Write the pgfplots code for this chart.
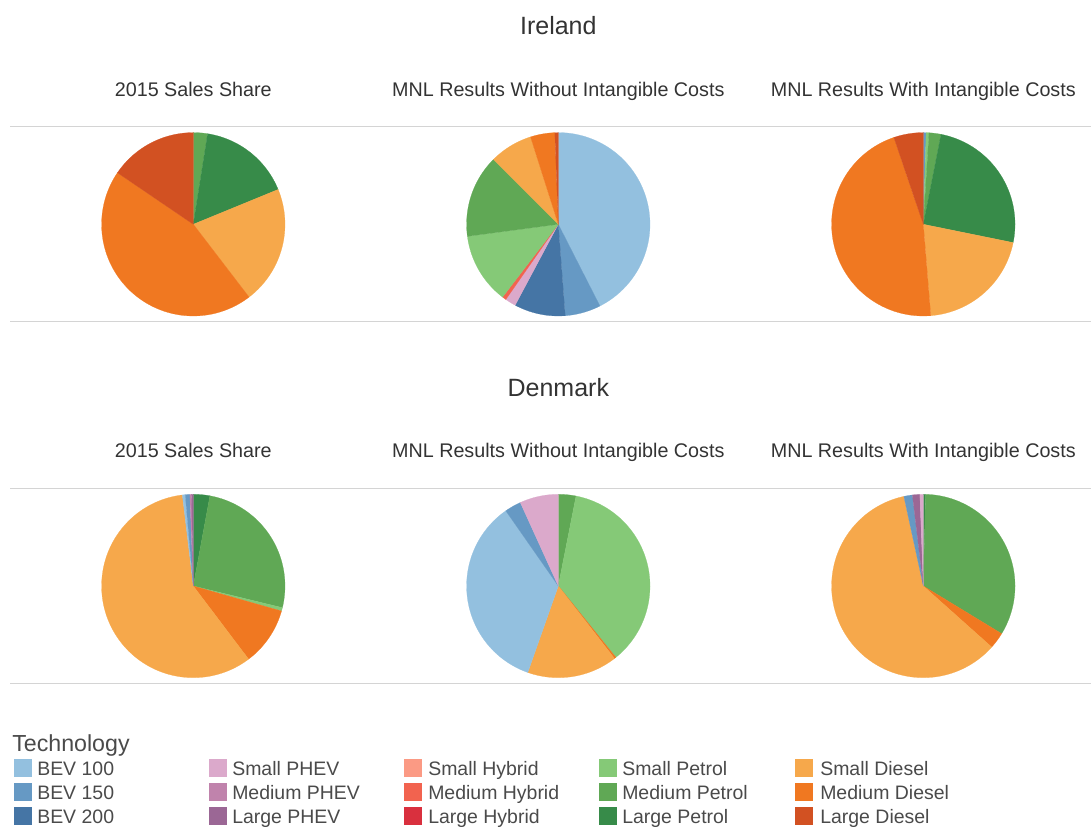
\documentclass[border=0pt]{standalone}
\usepackage{pgfplots}
\pgfplotsset{compat=1.18}
\usepackage{pgfplotstable}
\usepgfplotslibrary{polar}
\usepackage{fontspec}
\setmainfont{Liberation Sans}

\definecolor{BEV100}{HTML}{93C0DF}
\definecolor{BEV150}{HTML}{6699C4}
\definecolor{BEV200}{HTML}{4575A5}
\definecolor{SmallPHEV}{HTML}{DBA9CB}
\definecolor{MediumPHEV}{HTML}{C083AC}
\definecolor{LargePHEV}{HTML}{9B6795}
\definecolor{SmallHybrid}{HTML}{FB9A84}
\definecolor{MediumHybrid}{HTML}{F2634F}
\definecolor{LargeHybrid}{HTML}{D9303E}
\definecolor{SmallPetrol}{HTML}{85C977}
\definecolor{MediumPetrol}{HTML}{60A855}
\definecolor{LargePetrol}{HTML}{378B49}
\definecolor{SmallDiesel}{HTML}{F6A84B}
\definecolor{MediumDiesel}{HTML}{F07821}
\definecolor{LargeDiesel}{HTML}{D25122}
\definecolor{txt}{HTML}{333333}
\definecolor{legtxt}{HTML}{4A4A4A}
\definecolor{rule}{HTML}{D4D4D4}

% Ireland
\pgfplotstableread{
tech share
MediumPetrol 2.5
LargePetrol 16.3
SmallDiesel 20.8
MediumDiesel 44.9
LargeDiesel 15.5
}\IreA
\pgfplotstableread{
tech share
BEV100 42.5
BEV150 6.3
BEV200 9.0
SmallPHEV 1.9
MediumHybrid 0.7
SmallPetrol 12.5
MediumPetrol 14.6
SmallDiesel 7.6
MediumDiesel 4.3
LargeDiesel 0.6
}\IreB
\pgfplotstableread{
tech share
BEV150 0.5
SmallPetrol 0.5
MediumPetrol 2.1
LargePetrol 25.1
SmallDiesel 20.5
MediumDiesel 46.1
LargeDiesel 5.2
}\IreC
% Denmark
\pgfplotstableread{
tech share
LargePetrol 2.9
MediumPetrol 25.9
SmallPetrol 0.6
MediumDiesel 10.3
SmallDiesel 58.4
BEV100 0.5
BEV150 0.8
MediumPHEV 0.3
LargePHEV 0.3
}\DenA
\pgfplotstableread{
tech share
MediumPetrol 3.1
SmallPetrol 36.1
MediumDiesel 0.3
SmallDiesel 15.9
BEV100 34.9
BEV150 2.9
SmallPHEV 6.8
}\DenB
\pgfplotstableread{
tech share
LargePetrol 0.4
MediumPetrol 33.3
MediumDiesel 2.9
SmallDiesel 60.0
BEV150 1.5
LargePHEV 1.3
SmallPHEV 0.6
}\DenC

\newcommand{\drawpie}[1]{%
  \pgfplotstablegetrowsof{#1}%
  \pgfmathtruncatemacro\pielast{\pgfplotsretval-1}%
  \gdef\piecum{0}%
  \foreach \i in {0,...,\pielast}{%
    \pgfplotstablegetelem{\i}{tech}\of{#1}\let\piecol\pgfplotsretval
    \pgfplotstablegetelem{\i}{share}\of{#1}\let\pieval\pgfplotsretval
    \pgfmathsetmacro\pa{90-(\piecum+\pieval)*3.6}%
    \pgfmathsetmacro\pb{90-\piecum*3.6}%
    \pgfmathtruncatemacro\pn{max(2,(\pb-\pa)/1.5+2)}%
    \edef\doslice{\noexpand\addplot[fill=\piecol,draw=\piecol,line width=0.15pt,domain=\pa:\pb,samples=\pn]{1} -- (axis cs:0,0) -- cycle;}%
    \doslice
    \pgfmathsetmacro\newcum{\piecum+\pieval}%
    \xdef\piecum{\newcum}%
  }%
}

\pgfplotsset{pie/.style={anchor=center, width=137.55pt, height=137.55pt,
  scale only axis, hide axis, ymin=0, ymax=1, clip=false}}

\newcommand{\titlefont}{\fontsize{18.75}{20}\selectfont}
\newcommand{\subfont}{\fontsize{14.8}{16}\selectfont}
\newcommand{\legfont}{\fontsize{14.6}{16}\selectfont}

\begin{document}
\begin{tikzpicture}
\useasboundingbox (0,0) rectangle (818.25pt,620.25pt);
\begin{axis}[at={(0,0)}, anchor=south west, width=818.25pt, height=620.25pt,
  scale only axis, xmin=0, xmax=1091, ymin=0, ymax=827, y dir=reverse,
  hide axis, clip=false]
  % rules
  \addplot[color=rule, line width=0.8pt] coordinates {(10,126.7) (1091,126.7)};
  \addplot[color=rule, line width=0.8pt] coordinates {(10,321.7) (1091,321.7)};
  \addplot[color=rule, line width=0.8pt] coordinates {(10,488.3) (1091,488.3)};
  \addplot[color=rule, line width=0.8pt] coordinates {(10,683.3) (1091,683.3)};
  % titles
  \node[anchor=base, text=txt, font=\titlefont] at (axis cs:558.3,35) {Ireland};
  \node[anchor=base, text=txt, font=\titlefont] at (axis cs:558.3,396) {Denmark};
  \node[anchor=base, text=txt, font=\subfont] at (axis cs:193.3,96.7) {2015 Sales Share};
  \node[anchor=base, text=txt, font=\subfont] at (axis cs:558.3,96.7) {MNL Results Without Intangible Costs};
  \node[anchor=base, text=txt, font=\subfont] at (axis cs:923.3,96.7) {MNL Results With Intangible Costs};
  \node[anchor=base, text=txt, font=\subfont] at (axis cs:193.3,457.3) {2015 Sales Share};
  \node[anchor=base, text=txt, font=\subfont] at (axis cs:558.3,457.3) {MNL Results Without Intangible Costs};
  \node[anchor=base, text=txt, font=\subfont] at (axis cs:923.3,457.3) {MNL Results With Intangible Costs};
  % legend
  \node[anchor=base west, inner sep=0pt, text=legtxt, font=\fontsize{17.4}{19}\selectfont] at (axis cs:12,751.7) {Technology};
  \addplot[only marks, mark=square*, mark size=6.2pt, color=BEV100] coordinates {(22.5,767.5)};
  \addplot[only marks, mark=square*, mark size=6.2pt, color=BEV150] coordinates {(22.5,791.5)};
  \addplot[only marks, mark=square*, mark size=6.2pt, color=BEV200] coordinates {(22.5,815.5)};
  \addplot[only marks, mark=square*, mark size=6.2pt, color=SmallPHEV] coordinates {(218,767.5)};
  \addplot[only marks, mark=square*, mark size=6.2pt, color=MediumPHEV] coordinates {(218,791.5)};
  \addplot[only marks, mark=square*, mark size=6.2pt, color=LargePHEV] coordinates {(218,815.5)};
  \addplot[only marks, mark=square*, mark size=6.2pt, color=SmallHybrid] coordinates {(413,767.5)};
  \addplot[only marks, mark=square*, mark size=6.2pt, color=MediumHybrid] coordinates {(413,791.5)};
  \addplot[only marks, mark=square*, mark size=6.2pt, color=LargeHybrid] coordinates {(413,815.5)};
  \addplot[only marks, mark=square*, mark size=6.2pt, color=SmallPetrol] coordinates {(608,767.5)};
  \addplot[only marks, mark=square*, mark size=6.2pt, color=MediumPetrol] coordinates {(608,791.5)};
  \addplot[only marks, mark=square*, mark size=6.2pt, color=LargePetrol] coordinates {(608,815.5)};
  \addplot[only marks, mark=square*, mark size=6.2pt, color=SmallDiesel] coordinates {(803.5,767.5)};
  \addplot[only marks, mark=square*, mark size=6.2pt, color=MediumDiesel] coordinates {(803.5,791.5)};
  \addplot[only marks, mark=square*, mark size=6.2pt, color=LargeDiesel] coordinates {(803.5,815.5)};
  \node[anchor=base west, inner sep=0pt, text=legtxt, font=\legfont] at (axis cs:37,775.5) {BEV 100};
  \node[anchor=base west, inner sep=0pt, text=legtxt, font=\legfont] at (axis cs:37,799.5) {BEV 150};
  \node[anchor=base west, inner sep=0pt, text=legtxt, font=\legfont] at (axis cs:37,823.5) {BEV 200};
  \node[anchor=base west, inner sep=0pt, text=legtxt, font=\legfont] at (axis cs:232,775.5) {Small PHEV};
  \node[anchor=base west, inner sep=0pt, text=legtxt, font=\legfont] at (axis cs:232,799.5) {Medium PHEV};
  \node[anchor=base west, inner sep=0pt, text=legtxt, font=\legfont] at (axis cs:232,823.5) {Large PHEV};
  \node[anchor=base west, inner sep=0pt, text=legtxt, font=\legfont] at (axis cs:428,775.5) {Small Hybrid};
  \node[anchor=base west, inner sep=0pt, text=legtxt, font=\legfont] at (axis cs:428,799.5) {Medium Hybrid};
  \node[anchor=base west, inner sep=0pt, text=legtxt, font=\legfont] at (axis cs:428,823.5) {Large Hybrid};
  \node[anchor=base west, inner sep=0pt, text=legtxt, font=\legfont] at (axis cs:622,775.5) {Small Petrol};
  \node[anchor=base west, inner sep=0pt, text=legtxt, font=\legfont] at (axis cs:622,799.5) {Medium Petrol};
  \node[anchor=base west, inner sep=0pt, text=legtxt, font=\legfont] at (axis cs:622,823.5) {Large Petrol};
  \node[anchor=base west, inner sep=0pt, text=legtxt, font=\legfont] at (axis cs:820,775.5) {Small Diesel};
  \node[anchor=base west, inner sep=0pt, text=legtxt, font=\legfont] at (axis cs:820,799.5) {Medium Diesel};
  \node[anchor=base west, inner sep=0pt, text=legtxt, font=\legfont] at (axis cs:820,823.5) {Large Diesel};
\end{axis}

% Ireland pies
\begin{polaraxis}[pie, at={(144.975pt,452.025pt)}]
  \drawpie{\IreA}
\end{polaraxis}
\begin{polaraxis}[pie, at={(418.725pt,452.025pt)}]
  \drawpie{\IreB}
\end{polaraxis}
\begin{polaraxis}[pie, at={(692.475pt,452.025pt)}]
  \drawpie{\IreC}
\end{polaraxis}
% Denmark pies
\begin{polaraxis}[pie, at={(144.975pt,180.75pt)}]
  \drawpie{\DenA}
\end{polaraxis}
\begin{polaraxis}[pie, at={(418.725pt,180.75pt)}]
  \drawpie{\DenB}
\end{polaraxis}
\begin{polaraxis}[pie, at={(692.475pt,180.75pt)}]
  \drawpie{\DenC}
\end{polaraxis}
\end{tikzpicture}
\end{document}
